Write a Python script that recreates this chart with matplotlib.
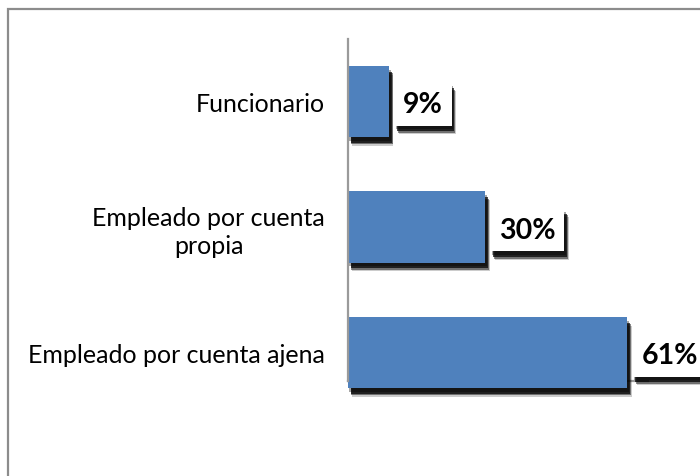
import matplotlib
matplotlib.use("Agg")
import matplotlib.pyplot as plt
import matplotlib.patheffects as pe
from matplotlib.patches import Rectangle

categories = ["Empleado por cuenta ajena", "Empleado por cuenta\npropia", "Funcionario"]
values = [0.61, 0.30, 0.09]
labels = ["61%", "30%", "9%"]

plt.rcParams['font.family'] = ['Lato', 'DejaVu Sans']

fig = plt.figure(figsize=(7.0, 4.77), dpi=100)
# outer frame
fig.patches.append(Rectangle((8/700, -0.2), 1.5, 1 - 10/477 + 0.2, transform=fig.transFigure,
                             fill=False, edgecolor='#8c8c8c', linewidth=1.6))

ax = fig.add_axes([348/700, 95/477, 300/700, 342/477])
ax.set_xlim(0, 0.655)
ax.set_ylim(-0.227, 2.498)

def shadow_effects():
    return [pe.SimplePatchShadow(offset=(1.0, -2.6), shadow_rgbFace='black', alpha=0.35),
            pe.SimplePatchShadow(offset=(1.8, -4.0), shadow_rgbFace='black', alpha=0.7),
            pe.SimplePatchShadow(offset=(2.4, -5.2), shadow_rgbFace='black', alpha=0.45),
            pe.SimplePatchShadow(offset=(3.0, -6.2), shadow_rgbFace='black', alpha=0.2),
            pe.Normal()]

ypos = list(range(len(categories)))
bars = ax.barh(ypos, values, height=0.566, color='#4f81bd', clip_on=False, zorder=3)
for b in bars:
    b.set_path_effects(shadow_effects())

for y, v, lab in zip(ypos, values, labels):
    t = ax.annotate(lab, xy=(v, y), xytext=(10, -2), textcoords='offset points',
                    ha='left', va='center', fontsize=20.5, fontweight='bold', color='black',
                    annotation_clip=False, zorder=5,
                    bbox=dict(boxstyle='square,pad=0.3', facecolor='white', edgecolor='none'))
    t.get_bbox_patch().set_path_effects(shadow_effects())

ax.set_yticks(ypos)
ax.set_yticklabels(categories, fontsize=18, multialignment='center', linespacing=1.25)
ax.tick_params(axis='y', length=0, pad=16.5)
ax.set_xticks([])
for s in ['top', 'right']:
    ax.spines[s].set_visible(False)
for s in ['left', 'bottom']:
    ax.spines[s].set_color('#9a9a9a')
    ax.spines[s].set_linewidth(1.6)
ax.spines['left'].set_zorder(4)

fig.savefig('out.png', dpi=100)
